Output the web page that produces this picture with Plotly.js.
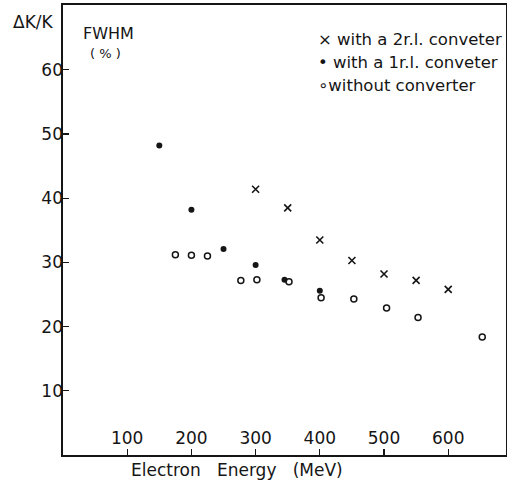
<!DOCTYPE html>
<html>
<head>
<meta charset="utf-8">
<script src="https://cdn.plot.ly/plotly-3.0.1.min.js"></script>
<style>html,body{margin:0;padding:0;background:#fff;}#chart{width:507px;height:483px;}</style>
</head>
<body>
<div id="chart"></div>
<script>
// Data
var energy2rl = [300, 350, 400, 450, 500, 550, 600];
var fwhm2rl   = [41.4, 38.5, 33.5, 30.3, 28.2, 27.2, 25.8];

var energy1rl = [150, 200, 250, 300, 345, 400];
var fwhm1rl   = [48.2, 38.2, 32.1, 29.6, 27.3, 25.6];

var energyNone = [175, 200, 225, 277, 302, 352, 402, 453, 504, 553, 653];
var fwhmNone   = [31.2, 31.1, 31.0, 27.2, 27.3, 27.0, 24.5, 24.3, 22.9, 21.4, 18.4];

var xTicks = [100, 200, 300, 400, 500, 600];
var yTicks = [10, 20, 30, 40, 50, 60];

var legendLabels = ["× with a 2r.l. conveter", "• with a 1r.l. conveter", "∘without converter"];

var ink = "#151515";
var fontFam = "DejaVu Sans, sans-serif";

var traces = [
  {x: energy2rl, y: fwhm2rl, mode: "markers", type: "scatter", name: "with a 2r.l. conveter",
   marker: {symbol: "x-thin-open", size: 7, color: ink, line: {width: 1.6, color: ink}}},
  {x: energy1rl, y: fwhm1rl, mode: "markers", type: "scatter", name: "with a 1r.l. conveter",
   marker: {symbol: "circle", size: 6, color: ink}},
  {x: energyNone, y: fwhmNone, mode: "markers", type: "scatter", name: "without converter",
   marker: {symbol: "circle-open", size: 6, color: ink, line: {width: 1.5, color: ink}}}
];

var W = 443, H = 450, L = 63, T = 5;
function px(xp) { return (xp - L) / W; }
function py(yp) { return (T + H - yp) / H; }

var annotations = [
  {text: "ΔK/K", xref: "paper", yref: "paper", x: px(33), y: py(22), xanchor: "center", yanchor: "middle", showarrow: false, font: {family: fontFam, size: 17, color: ink}},
  {text: "FWHM", xref: "paper", yref: "paper", x: px(81), y: py(34), xanchor: "left", yanchor: "middle", showarrow: false, font: {family: fontFam, size: 16, color: ink}},
  {text: "( % )", xref: "paper", yref: "paper", x: px(88), y: py(53), xanchor: "left", yanchor: "middle", showarrow: false, font: {family: fontFam, size: 13, color: ink}},
  {text: "Electron   Energy   (MeV)", xref: "paper", yref: "paper", x: px(237), y: py(470), xanchor: "center", yanchor: "middle", showarrow: false, font: {family: fontFam, size: 17, color: ink}}
];
var legY = [39, 62, 85];
for (var i = 0; i < legendLabels.length; i++) {
  annotations.push({text: legendLabels[i], xref: "paper", yref: "paper", x: px(316), y: py(legY[i]), xanchor: "left", yanchor: "middle", showarrow: false, font: {family: fontFam, size: 16.5, color: ink}});
}

var layout = {
  width: 507, height: 483,
  margin: {l: L, r: 507 - L - W, t: T, b: 483 - T - H, pad: 0},
  paper_bgcolor: "#fff", plot_bgcolor: "#fff",
  showlegend: false,
  font: {family: fontFam, color: ink},
  xaxis: {range: [0, 690], tickvals: xTicks, ticktext: xTicks.map(String), ticks: "inside", ticklen: 6, tickwidth: 1.3, tickcolor: ink,
          ticklabelposition: "inside", ticklabelstandoff: 2, showline: true, linecolor: ink, linewidth: 1.6, mirror: true, showgrid: false, zeroline: false,
          tickfont: {family: fontFam, size: 17, color: ink}},
  yaxis: {range: [0, 70.1], tickvals: yTicks, ticktext: yTicks.map(String), ticks: "inside", ticklen: 6, tickwidth: 1.3, tickcolor: ink,
          ticklabelstandoff: -5, showline: true, linecolor: ink, linewidth: 1.6, mirror: true, showgrid: false, zeroline: false,
          tickfont: {family: fontFam, size: 17, color: ink}},
  annotations: annotations
};

Plotly.newPlot("chart", traces, layout, {displayModeBar: false, staticPlot: true});
</script>
</body>
</html>
